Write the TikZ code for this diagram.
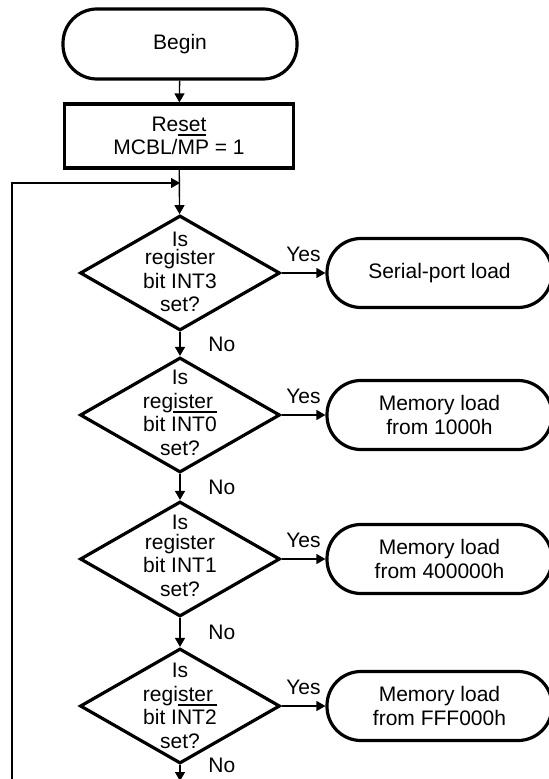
\documentclass[tikz,border=0pt]{standalone}
\usepackage{fontspec}
\setmainfont{Liberation Sans}
\usetikzlibrary{arrows.meta,shapes.geometric}
\newcommand\lowbar[1]{\setbox0\hbox{#1}\rlap{\rule[-2.3pt]{\wd0}{0.9pt}}\box0}

\begin{document}
\begin{tikzpicture}[x=0.5pt,y=-0.5pt,>={Triangle[length=4.5pt,width=5pt]},
  every node/.style={font=\fontsize{10.5}{11.75}\selectfont,align=center},
  term/.style={draw,line width=1.6pt,minimum width=112.5pt,minimum height=34.5pt,
    rounded corners=17pt,inner sep=0pt},
  decision/.style={draw,diamond,line width=1.6pt,minimum width=100pt,
    minimum height=57.5pt,inner sep=0pt},
  flow/.style={line width=0.7pt,->}]
  \useasboundingbox (0,0) rectangle (549,779);
  \node[term,minimum width=117pt,minimum height=35pt] (begin) at (180,44) {Begin};
  \node[draw,line width=1.6pt,minimum width=114.5pt,minimum height=32pt] (reset) at (179,136)
    {Re\lowbar{set}\\MCBL/MP = 1};
  \coordinate (join) at (180,183);
  \coordinate (loopend) at (12,790);
  \coordinate (exit) at (180,781);
  \node[decision] (q3) at (180,273) {};
  \node[decision] (q0) at (180,415) {};
  \node[decision] (q1) at (180,559) {};
  \node[decision] (q2) at (180,706) {};
  \node (q3t) at (180,272) {Is\\[-2.5pt]register\\bit INT3\\set?};
  \node (q0t) at (180,413) {Is\\reg\lowbar{ister\kern2pt}\\bit INT0\\set?};
  \node (q1t) at (180,556) {Is\\[-2pt]register\\bit INT1\\set?};
  \node (q2t) at (180,706) {Is\\regi\lowbar{ster\kern2pt}\\bit INT2\\set?};
  \node[term] (serial) at (439.5,273) {Serial-port load};
  \node[term] (mem0) at (439.5,415) {Memory load\\from 1000h};
  \node[term] (mem1) at (439.5,559) {Memory load\\from 400000h};
  \node[term] (mem2) at (439.5,706) {Memory load\\from FFF000h};
  \draw[flow] (begin) -- (reset);
  \draw[flow] (reset) -- (q3);
  \draw[flow] (loopend) |- (join);
  \draw[flow] (q3) -- node[right=10.5pt]{No} (q0);
  \draw[flow] (q0) -- node[right=10.5pt]{No} (q1);
  \draw[flow] (q1) -- node[right=10.5pt]{No} (q2);
  \draw[flow] (q2) -- node[at start,right=10.5pt]{No} (exit);
  \draw[flow] (q3) -- node[above=2pt]{Yes} (serial);
  \draw[flow] (q0) -- node[above=2pt]{Yes} (mem0);
  \draw[flow] (q1) -- node[above=2pt]{Yes} (mem1);
  \draw[flow] (q2) -- node[above=2pt]{Yes} (mem2);
\end{tikzpicture}
\end{document}
